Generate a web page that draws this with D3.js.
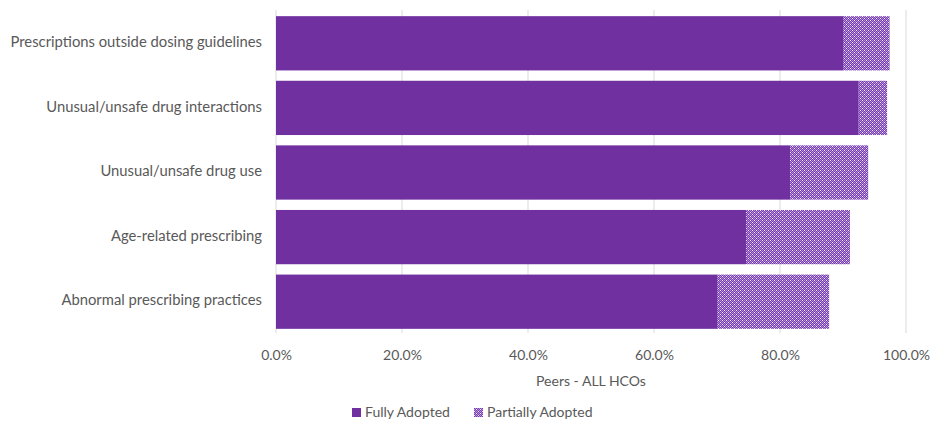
<!DOCTYPE html>
<html>
<head>
<meta charset="utf-8">
<script src="https://cdn.jsdelivr.net/npm/d3@7"></script>
<style>
  body { margin: 0; background: #fff; }
  text { font-family: Lato, "Noto Sans", sans-serif; fill: #595959; }
</style>
</head>
<body>
<div id="chart-area"></div>
<script>
// chart values
var categories = ["Prescriptions outside dosing guidelines", "Unusual/unsafe drug interactions",
                  "Unusual/unsafe drug use", "Age-related prescribing", "Abnormal prescribing practices"];
var fullyAdopted = [90.0, 92.5, 81.6, 74.6, 70.0];
var partiallyAdopted = [7.4, 4.5, 12.4, 16.5, 17.8];
var seriesNames = ["Fully Adopted", "Partially Adopted"];
var xTicks = [0, 20, 40, 60, 80, 100];

var width = 932, height = 421;
var margin = {top: 10, right: 26, bottom: 88, left: 276};
var w = width - margin.left - margin.right;
var h = height - margin.top - margin.bottom;

var svg = d3.select("#chart-area").append("svg")
    .attr("width", width)
    .attr("height", height);

// pattern for partial adoption (P = purple, L = lavender, W = white)
var cells = ["WPLP", "PLPL", "LPWP", "PLPL"];
var cellColor = {P: "#7a3db0", L: "#b08fd8", W: "#f3ecfa"};
var pat = svg.append("defs").append("pattern")
    .attr("id", "dots")
    .attr("patternUnits", "userSpaceOnUse")
    .attr("width", 4).attr("height", 4);
cells.forEach((row, r) => {
  row.split("").forEach((c, k) => {
    pat.append("rect").attr("x", k).attr("y", r)
      .attr("width", 1).attr("height", 1)
      .attr("fill", cellColor[c]);
  });
});

var g = svg.append("g")
    .attr("transform", "translate(" + margin.left + "," + margin.top + ")");

var x = d3.scaleLinear().domain([0, 100]).range([0, w]);
var y = d3.scaleBand().domain(categories).range([0, h]).paddingInner(0.16).paddingOuter(0.08);

// gridlines
g.selectAll(".grid")
  .data(xTicks)
  .enter().append("line")
    .attr("x1", (d) => x(d)).attr("x2", (d) => x(d))
    .attr("y1", 0).attr("y2", h)
    .attr("stroke", "#d9d9d9").attr("stroke-width", 1);

var rows = categories.map((c, i) => ({cat: c, full: fullyAdopted[i], part: partiallyAdopted[i]}));

g.selectAll(".full")
  .data(rows)
  .enter().append("rect")
    .attr("x", x(0))
    .attr("y", (d) => y(d.cat) + 1)
    .attr("width", (d) => x(d.full) - x(0))
    .attr("height", y.bandwidth())
    .attr("fill", "#7030a0");

g.selectAll(".part")
  .data(rows)
  .enter().append("rect")
    .attr("x", (d) => x(d.full))
    .attr("y", (d) => y(d.cat) + 1)
    .attr("width", (d) => x(d.full + d.part) - x(d.full))
    .attr("height", y.bandwidth())
    .attr("fill", "url(#dots)");

// category labels
var leftAxis = d3.axisLeft(y).tickSize(0).tickPadding(14);
g.append("g").attr("class", "left axis").call(leftAxis)
  .call((s) => s.select(".domain").remove())
  .selectAll("text")
    .attr("font-size", "14.8px")
    .style("font-family", "Lato, 'Noto Sans', sans-serif")
    .style("fill", "#595959");

var bottomAxis = d3.axisBottom(x).tickValues(xTicks).tickSize(0).tickPadding(17)
    .tickFormat((d) => d.toFixed(1) + "%");
g.append("g").attr("class", "bottom axis")
  .attr("transform", "translate(0," + h + ")")
  .call(bottomAxis)
  .call((s) => s.select(".domain").remove())
  .selectAll("text")
    .attr("font-size", "14px")
    .style("font-family", "Lato, 'Noto Sans', sans-serif")
    .style("fill", "#595959");

g.append("text")
  .attr("x", w / 2)
  .attr("y", h + 53)
  .attr("text-anchor", "middle")
  .attr("font-size", "14px")
  .text("Peers - ALL HCOs");

// legend
var legend = svg.append("g").attr("transform", "translate(0," + 417 + ")");
var legendX = [352, 474];
seriesNames.forEach((name, i) => {
  legend.append("rect")
    .attr("x", legendX[i]).attr("y", -9)
    .attr("width", 9).attr("height", 9)
    .attr("fill", i === 0 ? "#7030a0" : "url(#dots)");
  legend.append("text")
    .attr("x", legendX[i] + 13).attr("y", 0)
    .attr("font-size", "14px")
    .text(name);
});
</script>
</body>
</html>
